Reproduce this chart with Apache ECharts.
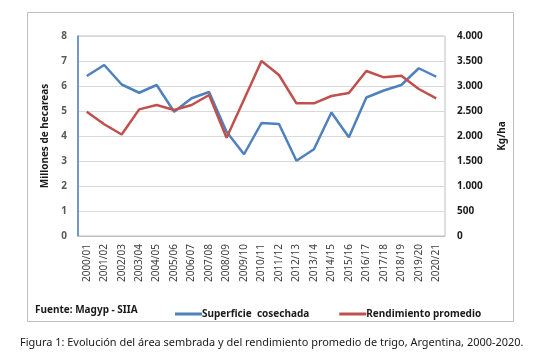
<!DOCTYPE html>
<html><head><meta charset="utf-8">
<script src="https://cdn.jsdelivr.net/npm/echarts@6/dist/echarts.min.js"></script>
<style>html,body{margin:0;padding:0;background:#fff}#c{width:535px;height:358px}</style>
</head><body><div id="c"></div>
<script>
const categories = ['2000/01','2001/02','2002/03','2003/04','2004/05','2005/06','2006/07','2007/08','2008/09','2009/10','2010/11','2011/12','2012/13','2013/14','2014/15','2015/16','2016/17','2017/18','2018/19','2019/20','2020/21'];
const superficie = [6.4,6.84,6.06,5.73,6.04,4.97,5.51,5.76,4.17,3.27,4.52,4.48,3.01,3.47,4.94,3.95,5.54,5.82,6.04,6.71,6.37];
const rendimiento = [2487,2235,2030,2533,2620,2520,2620,2820,1965,2730,3500,3220,2653,2653,2800,2860,3300,3173,3207,2940,2753];
const leftTicks = [0,1,2,3,4,5,6,7,8];
const rightTicks = ['0','500','1.000','1.500','2.000','2.500','3.000','3.500','4.000'];
const FONT = '"Noto Sans", "Open Sans", sans-serif';
const chart = echarts.init(document.getElementById('c'));
chart.setOption({
  animation:false,
  textStyle:{fontFamily:FONT},
  grid:{left:78,right:90,top:36,bottom:122,show:true,borderColor:'#bfbfbf',borderWidth:1},
  legend:{
    data:['Superficie  cosechada','Rendimiento promedio'],
    left:170, top:304, icon:'rect', itemWidth:27, itemHeight:3, itemGap:30,
    textStyle:{fontFamily:FONT,fontWeight:'bold',fontSize:10,color:'#1a1a1a',padding:[0,0,0,-5]}
  },
  xAxis:{type:'category',data:categories,boundaryGap:true,
    axisLine:{lineStyle:{color:'#bfbfbf'}},axisTick:{show:false},
    axisLabel:{rotate:90,fontSize:10,color:'#404040',margin:8,interval:0,fontFamily:FONT}},
  yAxis:[
    {type:'value',min:0,max:8,interval:1,position:'left',
     name:'Millones de hecareas',nameLocation:'middle',nameGap:25,
     nameTextStyle:{fontWeight:'bold',fontSize:10,color:'#1a1a1a',fontFamily:FONT},
     axisLine:{show:true,lineStyle:{color:'#4f81bd',width:1.5}},axisTick:{show:false},
     splitLine:{lineStyle:{color:'#d9d9d9'}},
     axisLabel:{fontSize:10,fontWeight:'bold',color:'#595959',margin:11,formatter:v=>String(leftTicks[v])}},
    {type:'value',min:0,max:4000,interval:500,position:'right',
     name:'Kg/ha',nameLocation:'middle',nameGap:52,nameRotate:90,
     nameTextStyle:{fontWeight:'bold',fontSize:10,color:'#1a1a1a',fontFamily:FONT},
     axisLine:{show:false},axisTick:{show:false},splitLine:{show:false},
     axisLabel:{fontSize:10,fontWeight:'bold',color:'#1a1a1a',margin:12,formatter:v=>rightTicks[v/500]}}
  ],
  series:[
    {name:'Superficie  cosechada',type:'line',yAxisIndex:0,data:superficie,symbol:'none',
     lineStyle:{color:'#4f81bd',width:2.5},itemStyle:{color:'#4f81bd'}},
    {name:'Rendimiento promedio',type:'line',yAxisIndex:1,data:rendimiento,symbol:'none',
     lineStyle:{color:'#c0504d',width:2.5},itemStyle:{color:'#c0504d'}}
  ],
  graphic:[
    {type:'rect',shape:{x:27.5,y:12.5,width:486,height:309},style:{fill:'none',stroke:'#bfbfbf',lineWidth:1},silent:true,z:-1},
    {type:'text',left:35,top:305,style:{text:'Fuente: Magyp - SIIA',font:'bold 10px '+FONT,fill:'#1a1a1a'}},
    {type:'text',left:20,top:337,style:{text:'Figura 1: Evolución del área sembrada y del rendimiento promedio de trigo, Argentina, 2000-2020.',font:'10.95px '+FONT,fill:'#1a1a1a'}}
  ]
});
</script></body></html>
